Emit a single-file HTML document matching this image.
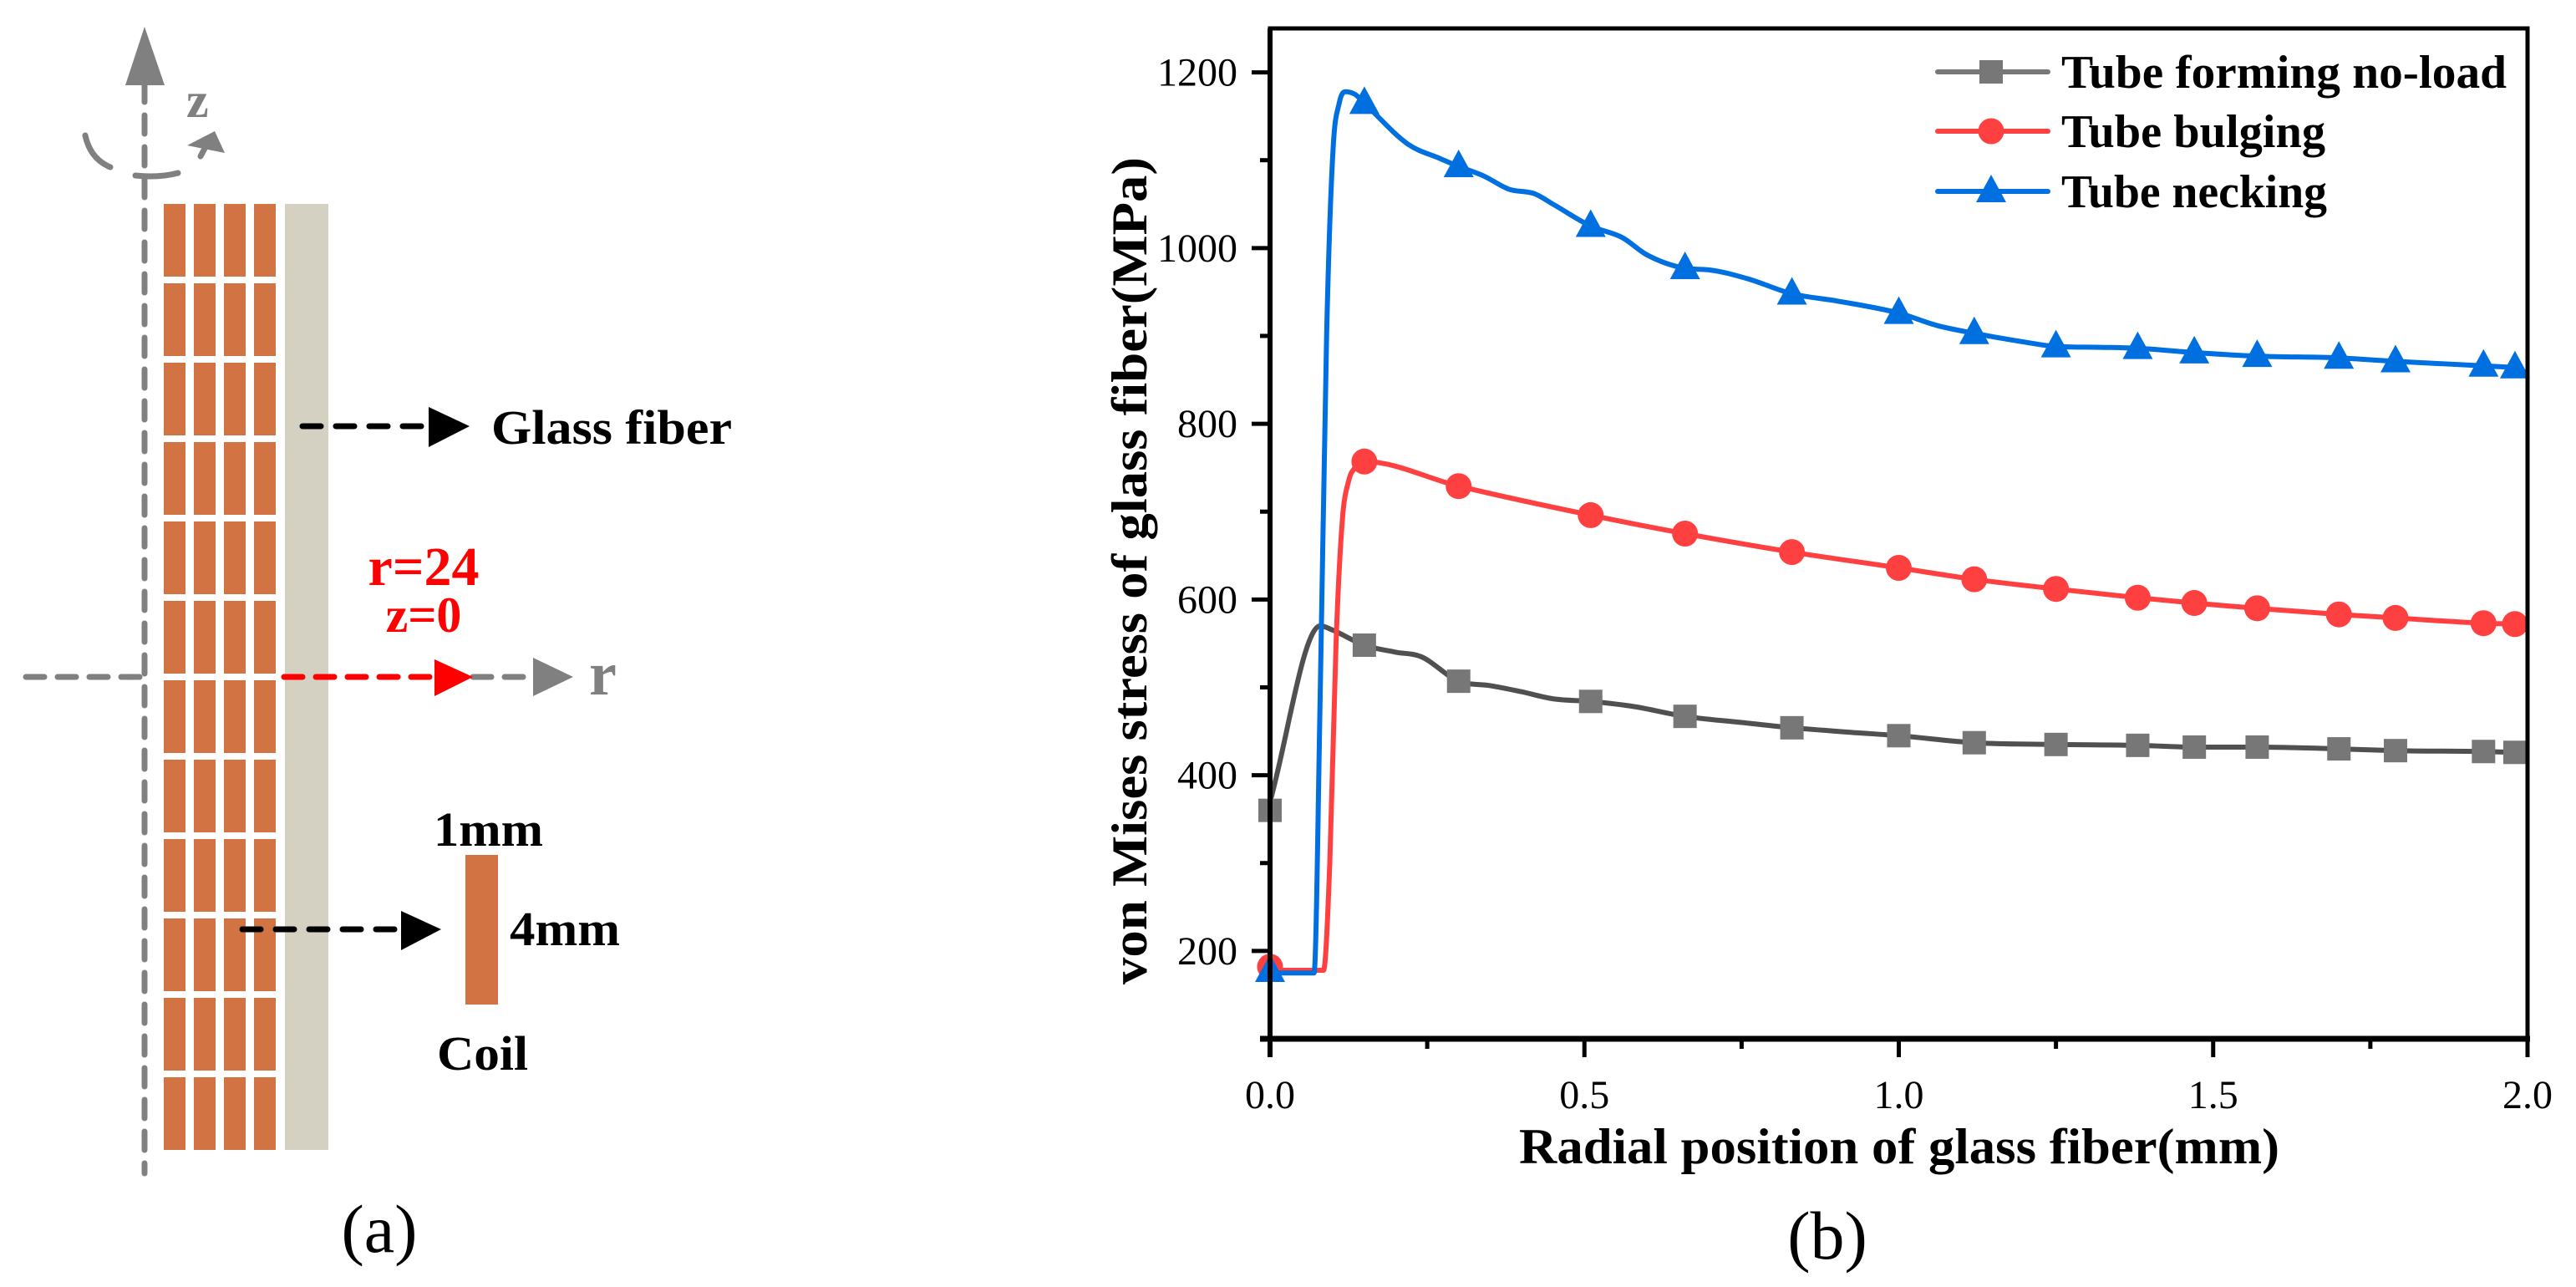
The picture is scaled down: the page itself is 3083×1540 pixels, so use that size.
<!DOCTYPE html>
<html><head><meta charset="utf-8"><style>
html,body{margin:0;padding:0;background:#fff;}
svg{display:block;}
text{font-family:"Liberation Serif",serif;}
</style></head><body>
<svg id="fig" width="3083" height="1540" viewBox="0 0 3083 1540" xmlns="http://www.w3.org/2000/svg">
<g id="diagram">
  <line x1="173" y1="100" x2="173" y2="1404" stroke="#808080" stroke-width="7" stroke-dasharray="22,16" stroke-linecap="round"/>
  <polygon points="173,32 150,102 197,102" fill="#808080"/>
  <text x="223" y="140" font-size="60" font-weight="bold" fill="#808080">z</text>
  <path d="M102,162 Q108,190 132,200" fill="none" stroke="#808080" stroke-width="7" stroke-linecap="round"/>
  <path d="M162,210 Q190,213 213,207" fill="none" stroke="#808080" stroke-width="7" stroke-linecap="round"/>
  <line x1="240" y1="187" x2="248" y2="172" stroke="#808080" stroke-width="7" stroke-linecap="round"/>
  <polygon points="224,174 257,157 269,183" fill="#808080"/>
  <g id="coils"></g>
  <rect x="341" y="244" width="52" height="1132" fill="#d4d1c3"/>
  <line x1="31" y1="810" x2="172" y2="810" stroke="#808080" stroke-width="7" stroke-dasharray="22,16" stroke-linecap="round"/>
  <line x1="566" y1="810" x2="630" y2="810" stroke="#808080" stroke-width="7" stroke-dasharray="22,16" stroke-linecap="round"/>
  <polygon points="638,787 686,810 638,833" fill="#808080"/>
  <text x="705" y="831" font-size="74" font-weight="bold" fill="#808080">r</text>
  <line x1="340" y1="810" x2="515" y2="810" stroke="#ff0000" stroke-width="7" stroke-dasharray="22,16" stroke-linecap="round"/>
  <polygon points="520,789 566,810 520,833" fill="#ff0000"/>
  <text x="507" y="700" font-size="66" font-weight="bold" fill="#ff0000" text-anchor="middle">r=24</text>
  <text x="507" y="756" font-size="60" font-weight="bold" fill="#ff0000" text-anchor="middle">z=0</text>
  <line x1="362" y1="510" x2="508" y2="510" stroke="#000" stroke-width="7" stroke-dasharray="22,18" stroke-linecap="round"/>
  <polygon points="513,487 562,510 513,535" fill="#000"/>
  <text x="588" y="531" font-size="58" font-weight="bold" fill="#000" textLength="288" lengthAdjust="spacingAndGlyphs">Glass fiber</text>
  <line x1="290" y1="1112" x2="475" y2="1112" stroke="#000" stroke-width="7" stroke-dasharray="22,18" stroke-linecap="round"/>
  <polygon points="480,1090 528,1112 480,1137" fill="#000"/>
  <rect x="557" y="1023" width="39" height="179" fill="#d17342"/>
  <text x="519" y="1012" font-size="58" font-weight="bold" textLength="131" lengthAdjust="spacingAndGlyphs">1mm</text>
  <text x="610" y="1131" font-size="58" font-weight="bold" textLength="132" lengthAdjust="spacingAndGlyphs">4mm</text>
  <text x="523" y="1280" font-size="58" font-weight="bold" textLength="109" lengthAdjust="spacingAndGlyphs">Coil</text>
  <text x="454" y="1498" font-size="82" text-anchor="middle">(a)</text>
</g>
<g id="chart"></g>
</svg>
<script>
const NS='http://www.w3.org/2000/svg';
function mk(parent,tag,attrs,txt){const e=document.createElementNS(NS,tag);for(const k in attrs)e.setAttribute(k,attrs[k]);if(txt!==undefined)e.textContent=txt;parent.appendChild(e);return e;}
const coilG=document.getElementById('coils');
const colX=[196,232,268,304];
for(let r=0;r<12;r++){for(const cx of colX){const e=mk(coilG,'rect',{x:cx,y:244+r*95,width:26,height:87,fill:'#d17342'});

}}

// ===== chart data =====
const xTicks=[0,0.5,1.0,1.5,2.0];
const xTickLabels=['0.0','0.5','1.0','1.5','2.0'];
const yTicks=[200,400,600,800,1000,1200];
const yTickLabels=['200','400','600','800','1000','1200'];
const seriesNames=['Tube forming no-load','Tube bulging','Tube necking'];
const grayX=[0,0.08,0.1,0.15,0.2,0.24,0.3,0.35,0.4,0.45,0.51,0.58,0.66,0.75,0.83,0.92,1.0,1.12,1.25,1.38,1.47,1.57,1.7,1.79,1.93,1.98];
const grayY=[370,570,565,548,540,535,507,502,495,487,484,478,467,460,454,449,445,437,435,434,432,432,430,428,427,426];
const grayMarkX=[0,0.15,0.3,0.51,0.66,0.83,1.0,1.12,1.25,1.38,1.47,1.57,1.7,1.79,1.93,1.98];
const grayMarkY=[360,548,507,484,467,454,445,437,435,434,432,432,430,428,427,426];
const redX=[0,0.085,0.095,0.105,0.115,0.125,0.135,0.15,0.3,0.51,0.66,0.83,1.0,1.12,1.25,1.38,1.47,1.57,1.7,1.79,1.93,1.98];
const redY=[178,178,300,550,690,735,750,757,729,696,675,654,636,623,612,602,596,590,583,579,573,572];
const redMarkX=[0,0.15,0.3,0.51,0.66,0.83,1.0,1.12,1.25,1.38,1.47,1.57,1.7,1.79,1.93,1.98];
const redMarkY=[182,757,729,696,675,654,636,623,612,602,596,590,583,579,573,572];
const blueX=[0,0.07,0.08,0.09,0.1,0.11,0.12,0.135,0.15,0.22,0.27,0.3,0.34,0.38,0.42,0.45,0.51,0.56,0.6,0.66,0.7,0.76,0.83,0.9,1.0,1.06,1.12,1.2,1.25,1.32,1.38,1.47,1.57,1.7,1.79,1.93,1.98];
const blueY=[175,175,500,900,1110,1165,1178,1175,1165,1118,1102,1093,1082,1067,1062,1050,1025,1012,992,977,975,965,948,940,926,912,903,893,888,887,886,881,877,875,871,866,864];
const blueMarkX=[0,0.15,0.3,0.51,0.66,0.83,1.0,1.12,1.25,1.38,1.47,1.57,1.7,1.79,1.93,1.98];
const blueMarkY=[177,1165,1093,1025,977,948,926,903,888,886,881,877,875,871,866,864];

const L=1520,R=3025,T=34,B=1243;
const xMin=0,xMax=2.0,yMin=100,yMax=1250;
const sx=v=>L+(v-xMin)/(xMax-xMin)*(R-L);
const sy=v=>B-(v-yMin)/(yMax-yMin)*(B-T);
const chart=document.getElementById('chart');

for(let v=300;v<=1100;v+=200){const e=mk(chart,'line',{x1:L-12,x2:L,y1:sy(v),y2:sy(v),stroke:'#000','stroke-width':5});

}
for(let v=0.25;v<2;v+=0.5){const e=mk(chart,'line',{x1:sx(v),x2:sx(v),y1:B,y2:B+12,stroke:'#000','stroke-width':5});

}
yTicks.forEach((v,i)=>{const t=mk(chart,'line',{x1:L-22,x2:L,y1:sy(v),y2:sy(v),stroke:'#000','stroke-width':5});


const lb=mk(chart,'text',{x:1481,y:sy(v)+16,'font-size':48,'text-anchor':'end'},yTickLabels[i]);

});
xTicks.forEach((v,i)=>{const t=mk(chart,'line',{x1:sx(v),x2:sx(v),y1:B,y2:B+22,stroke:'#000','stroke-width':5});


const lb=mk(chart,'text',{x:sx(v),y:1326,'font-size':48,'text-anchor':'middle'},xTickLabels[i]);

});

// monotone cubic (Fritsch-Carlson) – no overshoot
function monoPath(P){
  const n=P.length,d=[],m=[];
  for(let i=0;i<n-1;i++)d.push((P[i+1][1]-P[i][1])/(P[i+1][0]-P[i][0]));
  m[0]=d[0];m[n-1]=d[n-2];
  for(let i=1;i<n-1;i++){m[i]=(d[i-1]*d[i]<=0)?0:(d[i-1]+d[i])/2;}
  for(let i=0;i<n-1;i++){
    if(d[i]===0){m[i]=0;m[i+1]=0;continue;}
    const a=m[i]/d[i],b=m[i+1]/d[i],s=a*a+b*b;
    if(s>9){const t=3/Math.sqrt(s);m[i]=t*a*d[i];m[i+1]=t*b*d[i];}
  }
  let p='M'+P[0][0].toFixed(1)+','+P[0][1].toFixed(1);
  for(let i=0;i<n-1;i++){
    const h=(P[i+1][0]-P[i][0])/3;
    p+=` C${(P[i][0]+h).toFixed(1)},${(P[i][1]+m[i]*h).toFixed(1)} ${(P[i+1][0]-h).toFixed(1)},${(P[i+1][1]-m[i+1]*h).toFixed(1)} ${P[i+1][0].toFixed(1)},${P[i+1][1].toFixed(1)}`;
  }
  return p;
}
function drawSeries(xs,ys,mx,my,color,lineColor,marker,name){
  const g=mk(chart,'g',{});
  
  
  const P=xs.map((x,i)=>[sx(x),sy(ys[i])]);
  const pl=mk(g,'path',{d:monoPath(P),fill:'none',stroke:lineColor,'stroke-width':6,'stroke-linejoin':'round'});
  
  
  mx.forEach((x,i)=>{const cx=sx(x),cy=sy(my[i]);const m=drawMarker(g,marker,cx,cy,color);
    
    });
}
function drawMarker(g,marker,cx,cy,color){
  if(marker==='square')return mk(g,'rect',{x:cx-14,y:cy-14,width:28,height:28,fill:color});
  if(marker==='circle')return mk(g,'circle',{cx:cx,cy:cy,r:15.5,fill:color});
  return mk(g,'polygon',{points:`${cx},${cy-20} ${cx-18},${cy+13} ${cx+18},${cy+13}`,fill:color});
}
drawSeries(grayX,grayY,grayMarkX,grayMarkY,'#777777','#505050','square','no-load');
drawSeries(redX,redY,redMarkX,redMarkY,'#ff4040','#ff4040','circle','bulging');
drawSeries(blueX,blueY,blueMarkX,blueMarkY,'#0070e0','#0070e0','triangle','necking');

const fr=mk(chart,'rect',{x:L,y:T,width:R-L,height:B-T,fill:'none',stroke:'#000','stroke-width':5});


const xa=mk(chart,'line',{x1:L-12,x2:R+3,y1:B,y2:B,stroke:'#000','stroke-width':7});


const ya=mk(chart,'line',{x1:L,x2:L,y1:T,y2:B+22,stroke:'#000','stroke-width':6});



const legColors=[['#777777','#777777','square'],['#ff4040','#ff4040','circle'],['#0070e0','#0070e0','triangle']];
const legY=[86,157,229];
const legLen=[533,316,318];
seriesNames.forEach((n,i)=>{
  const g=mk(chart,'g',{});
  
  
  mk(g,'line',{x1:2319,x2:2451,y1:legY[i],y2:legY[i],stroke:legColors[i][1],'stroke-width':6,'stroke-linecap':'round'});
  drawMarker(g,legColors[i][2],2383,legY[i],legColors[i][0]);
  mk(g,'text',{x:2467,y:legY[i]+19,'font-size':56,'font-weight':'bold',textLength:legLen[i],lengthAdjust:'spacingAndGlyphs'},n);
});

const xt=mk(chart,'text',{x:2273,y:1392,'font-size':60,'font-weight':'bold','text-anchor':'middle',textLength:910,lengthAdjust:'spacingAndGlyphs'},'Radial position of glass fiber(mm)');


const yt=mk(chart,'text',{x:0,y:0,'font-size':60,'font-weight':'bold','text-anchor':'middle',textLength:990,lengthAdjust:'spacingAndGlyphs',transform:'translate(1372,683) rotate(-90)'},'von Mises stress of glass fiber(MPa)');


const pb=mk(chart,'text',{x:2187,y:1506,'font-size':82,'text-anchor':'middle'},'(b)');


</script>
</body></html>
